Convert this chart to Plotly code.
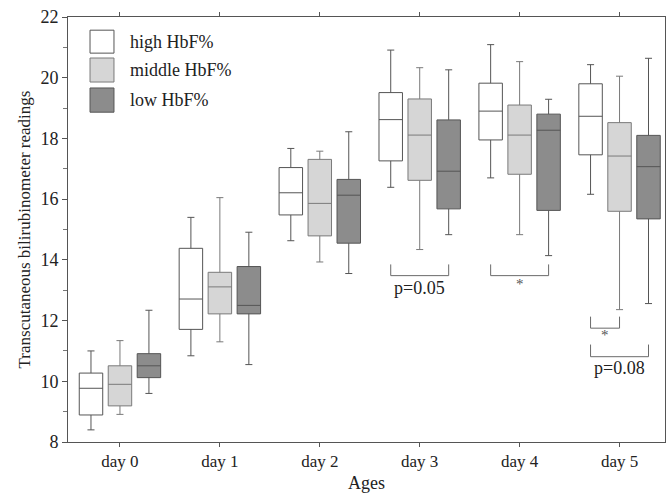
import plotly.graph_objects as go

days = ["day 0", "day 1", "day 2", "day 3", "day 4", "day 5"]
groups = ["high HbF%", "middle HbF%", "low HbF%"]

high_lo  = [8.40, 10.84, 14.63, 16.39, 16.70, 16.16]
high_q1  = [8.89, 11.71, 15.48, 17.26, 17.95, 17.46]
high_med = [9.77, 12.71, 16.21, 18.62, 18.90, 18.73]
high_q3  = [10.27, 14.38, 17.04, 19.51, 19.82, 19.80]
high_hi  = [11.00, 15.40, 17.67, 20.91, 21.09, 20.43]

mid_lo  = [8.91, 11.30, 13.93, 14.34, 14.83, 12.36]
mid_q1  = [9.19, 12.22, 14.79, 16.62, 16.82, 15.60]
mid_med = [9.90, 13.11, 15.86, 18.11, 18.11, 17.42]
mid_q3  = [10.51, 13.59, 17.31, 19.30, 19.10, 18.52]
mid_hi  = [11.34, 16.05, 17.58, 20.33, 20.53, 20.05]

low_lo  = [9.60, 10.55, 13.55, 14.83, 14.14, 12.56]
low_q1  = [10.12, 12.22, 14.55, 15.68, 15.63, 15.35]
low_med = [10.51, 12.50, 16.13, 16.92, 18.27, 17.07]
low_q3  = [10.91, 13.78, 16.65, 18.61, 18.80, 18.10]
low_hi  = [12.34, 14.91, 18.22, 20.26, 19.29, 20.64]

# significance brackets: (day index, from slot, to slot, tick top y, bar y, label, label y)
brackets = [
    (3, -1, 1, 13.85, 13.48, "p=0.05", 13.08),
    (4, -1, 1, 13.85, 13.48, "*", 13.20),
    (5, -1, 0, 12.13, 11.75, "*", 11.53),
    (5, -1, 1, 11.21, 10.81, "p=0.08", 10.45),
]

FONT = "Liberation Serif, Times New Roman, serif"
fills = ["#ffffff", "#d6d6d6", "#8c8c8c"]
lines = ["#555555", "#7a7a7a", "#555555"]
stats = [
    (high_lo, high_q1, high_med, high_q3, high_hi),
    (mid_lo, mid_q1, mid_med, mid_q3, mid_hi),
    (low_lo, low_q1, low_med, low_q3, low_hi),
]

fig = go.Figure()
for name, (lo, q1, med, q3, hi), fc, lc in zip(groups, stats, fills, lines):
    fig.add_trace(go.Box(
        name=name, x=days, q1=q1, median=med, q3=q3,
        lowerfence=lo, upperfence=hi,
        fillcolor=fc, line=dict(color=lc, width=1),
        whiskerwidth=0.3, showlegend=False, boxpoints=False,
    ))

slot = 0.29
shapes = []
annotations = []
for d, a, b, ytop, ybar, label, ylab in brackets:
    x0 = d + a * slot
    x1 = d + b * slot
    shapes.append(dict(type="path", xref="x", yref="y",
                       path=f"M {x0} {ytop} L {x0} {ybar} L {x1} {ybar} L {x1} {ytop}",
                       line=dict(color="#6a6a6a", width=1)))
    annotations.append(dict(x=(x0 + x1) / 2, y=ylab, xref="x", yref="y", text=label,
                            showarrow=False,
                            font=dict(family=FONT, size=18 if label != "*" else 15,
                                      color="#222" if label != "*" else "#555")))

# legend drawn manually (paper coordinates)
leg_y = [(0.969, 0.915), (0.9035, 0.847), (0.833, 0.776)]
for (y1, y0), fc, lc, name in zip(leg_y, fills, lines, groups):
    shapes.append(dict(type="rect", xref="paper", yref="paper",
                       x0=0.0369, x1=0.077, y0=y0, y1=y1,
                       fillcolor=fc, line=dict(color=lc, width=1)))
    annotations.append(dict(x=0.100, y=(y0 + y1) / 2, xref="paper", yref="paper",
                            text=name, showarrow=False, xanchor="left", yanchor="middle",
                            font=dict(family=FONT, size=18, color="#222")))

fig.update_layout(
    width=667, height=493,
    margin=dict(l=68, r=2, t=17, b=51),
    paper_bgcolor="white", plot_bgcolor="white",
    boxmode="group", boxgap=0.13, boxgroupgap=0.19,
    font=dict(family=FONT, size=18, color="#222"),
    shapes=shapes, annotations=annotations,
    showlegend=False,
)
fig.update_xaxes(
    type="category", range=[-0.52, 5.455], automargin=False,
    showgrid=False, zeroline=False,
    showline=True, linecolor="#555", linewidth=1, mirror="ticks",
    ticks="outside", ticklen=4, tickcolor="#555",
    tickfont=dict(family=FONT, size=17),
    title=dict(text="Ages", font=dict(family=FONT, size=18), standoff=5),
)
fig.update_yaxes(
    range=[8, 22], tickvals=[8, 10, 12, 14, 16, 18, 20, 22], automargin=False,
    showgrid=False, zeroline=False,
    showline=True, linecolor="#555", linewidth=1, mirror=True,
    ticks="outside", ticklen=5, tickcolor="#555",
    minor=dict(tickvals=[9, 11, 13, 15, 17, 19, 21], ticks="outside", ticklen=4, tickcolor="#777"),
    tickfont=dict(family=FONT, size=18),
    title=dict(text="Transcutaneous bilirubinometer readings", font=dict(family=FONT, size=17), standoff=5),
)

fig.write_html("out.html", config={"displayModeBar": False},
               post_script="document.body.style.margin='0';document.body.style.overflow='hidden';")
